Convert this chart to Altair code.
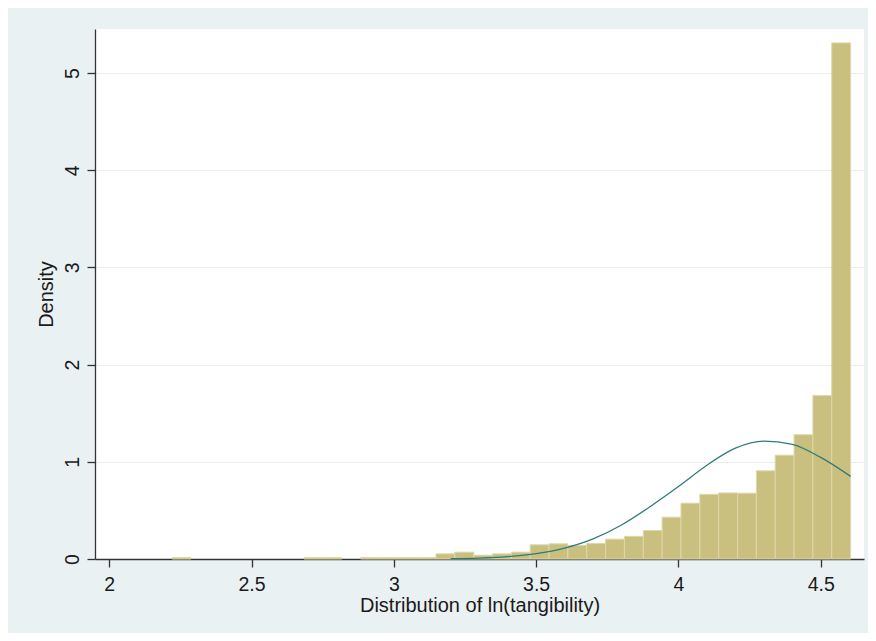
import altair as alt
import pandas as pd

# Histogram: 36 equal-width bins starting at the data minimum
bin_start = 2.221
bin_width = 0.06622
densities = [0.016, 0, 0, 0, 0, 0, 0, 0.016, 0.016, 0, 0.016, 0.016, 0.016, 0.016,
             0.053, 0.070, 0.039, 0.053, 0.070, 0.146, 0.156, 0.139, 0.160, 0.204,
             0.233, 0.293, 0.430, 0.574, 0.665, 0.680, 0.677, 0.907, 1.068, 1.278,
             1.682, 5.310]

# Normal density overlay
curve_x = [3.2, 3.3, 3.4, 3.5, 3.6, 3.7, 3.8, 3.9, 4.0, 4.1, 4.2, 4.3, 4.4, 4.5, 4.605]
curve_y = [0.004, 0.010, 0.025, 0.055, 0.112, 0.207, 0.350, 0.538, 0.745, 0.965,
           1.140, 1.212, 1.180, 1.045, 0.850]

x_ticks = [2, 2.5, 3, 3.5, 4, 4.5]
y_ticks = [0, 1, 2, 3, 4, 5]

rows = []
for i, d in enumerate(densities):
    if d > 0:
        rows.append({"x0": bin_start + i * bin_width,
                     "x1": bin_start + (i + 1) * bin_width,
                     "d": d})
bars_df = pd.DataFrame(rows)
curve_df = pd.DataFrame({"cx": curve_x, "cy": curve_y})

FONT = "Liberation Sans"
x_scale = alt.Scale(domain=[1.95, 4.652], nice=False, zero=False)
y_scale = alt.Scale(domain=[0, 5.453], nice=False, zero=False)

bars = alt.Chart(bars_df).mark_rect(
    color="#C9C07F", stroke="#DDD7A8", strokeWidth=1
).encode(
    x=alt.X("x0:Q", scale=x_scale,
            axis=alt.Axis(values=x_ticks, title="Distribution of ln(tangibility)",
                          grid=False, labelPadding=8, titlePadding=2,
                          labelFlush=False, format="~g")),
    x2="x1:Q",
    y=alt.Y("d:Q", scale=y_scale,
            axis=alt.Axis(values=y_ticks, title="Density", grid=True,
                          labelAngle=270, labelAlign="center",
                          labelBaseline="bottom", labelPadding=5,
                          titlePadding=6, labelFlush=False, format="d")),
    y2=alt.datum(0),
)

curve = alt.Chart(curve_df).mark_line(
    color="#2E7C78", strokeWidth=1.3, interpolate="monotone"
).encode(
    x=alt.X("cx:Q", scale=x_scale),
    y=alt.Y("cy:Q", scale=y_scale),
)

chart = alt.layer(bars, curve).properties(
    width=769, height=530,
    autosize=alt.AutoSizeParams(type="none"),
    padding={"left": 87, "top": 21, "right": 4, "bottom": 74},
    background="#EAF1F3",
).configure_view(
    stroke=None, fill="white"
).configure_axis(
    labelFont=FONT, labelFontSize=19.5, labelColor="#1a1a1a",
    titleFont=FONT, titleFontSize=20, titleFontWeight="normal", titleColor="#1a1a1a",
    tickColor="#333333", tickSize=8, tickWidth=1.3,
    domainColor="#333333", domainWidth=1.3,
    gridColor="#E6EFF1", gridWidth=1.2,
)

chart.save("out.html", embed_options={"renderer": "svg", "actions": False})
